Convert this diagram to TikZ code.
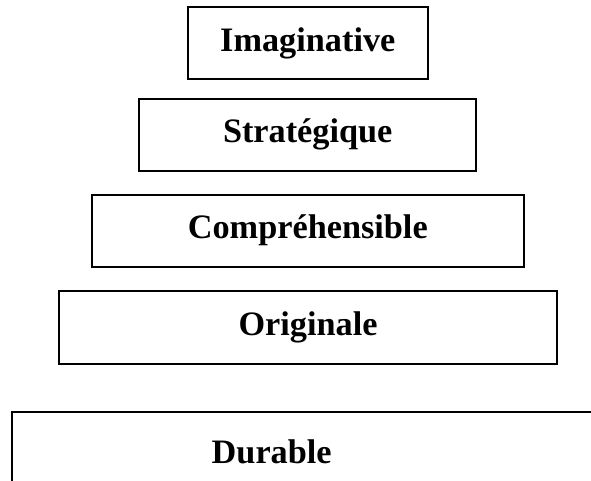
\documentclass[tikz,border=0pt]{standalone}
\usepackage{fontspec}
\setmainfont{Liberation Serif}
\begin{document}
\begin{tikzpicture}[x=0.75pt,y=-0.75pt,
  lblfont/.style={font=\fontsize{25.7}{30}\selectfont\bfseries},
  box/.style={draw, line width=1.4pt, inner sep=0pt, lblfont, text height=18pt, text depth=6pt},
  lbl/.style={inner sep=0pt, lblfont, anchor=base}]
\useasboundingbox (0,0) rectangle (591,480);
\node[box, minimum width=240.3*0.75pt, minimum height=72*0.75pt] (imag) at (307.8,43.3) {Imaginative};
\node[box, minimum width=336.7*0.75pt, minimum height=72*0.75pt] (strat) at (307.7,134.7) {Stratégique};
\node[box, minimum width=432.3*0.75pt, minimum height=71.7*0.75pt] (compr) at (307.8,230.85) {Compréhensible};
\node[box, minimum width=497.4*0.75pt, minimum height=73.6*0.75pt] (orig) at (308,327.5) {Originale};
\node[box, anchor=north west, minimum width=640*0.75pt, minimum height=120*0.75pt] (dur) at (11,411) {};
\node[lbl] (durtxt) at (271.7,463.3) {Durable};
\end{tikzpicture}
\end{document}
